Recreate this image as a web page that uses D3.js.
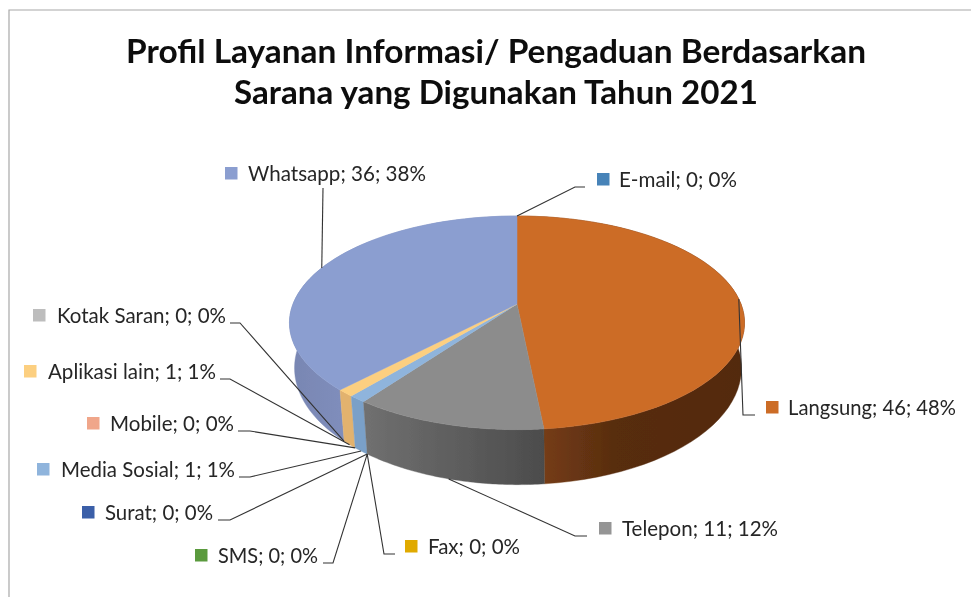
<!DOCTYPE html>
<html>
<head>
<meta charset="utf-8">
<script src="https://cdn.jsdelivr.net/npm/d3@7/dist/d3.min.js"></script>
<style>
html,body{margin:0;padding:0;background:#fff;overflow:hidden}
svg{display:block}
text{font-family:Lato,"Open Sans",sans-serif;fill:#262626}
</style>
</head>
<body>
<svg id="chart" width="971" height="597"></svg>
<script>
// ---- data ----
const categories = ["E-mail","Langsung","Telepon","Fax","SMS","Surat","Media Sosial","Mobile","Aplikasi lain","Kotak Saran","Whatsapp"];
const values     = [0,46,11,0,0,0,1,0,1,0,36];
const percents   = ["0%","48%","12%","0%","0%","0%","1%","0%","1%","0%","38%"];
const titleLines = ["Profil Layanan Informasi/ Pengaduan Berdasarkan","Sarana yang Digunakan Tahun 2021"];

// ---- style ----
const colors   = ["#4683b8","#cc6c28","#8c8c8c","#e0aa00","#5a9a3c","#3a5ea8","#8fb4dc","#f0a68a","#fccf80","#bdbdbd","#8b9ed0"];
const legendColors = ["#4683b8","#cc6c28","#959595","#e0aa00","#5a9a3c","#3a5ea8","#8fb4dc","#f0a68a","#fccf80","#bdbdbd","#8b9ed0"];
const wallStops = {
  Langsung:[["0","#753c14"],["0.35","#582d10"],["1","#532a0f"]],
  Telepon:[["0","#707070"],["1","#4c4c4c"]],
  "Media Sosial":[["0","#7aa0c8"],["1","#7aa0c8"]],
  "Aplikasi lain":[["0","#e2b26e"],["1","#e2b26e"]],
  Whatsapp:[["0","#7886b2"],["1","#7f8dbb"]]
};

// ---- label layout: swatch x, text span, baseline, leader stub ----
const layout = {
  "E-mail":       {sx:597,tx:619,te:737,by:187,stub:[585,575],rim:"top"},
  "Langsung":     {sx:766,tx:788,te:956,by:415,stub:[755,743],rim:"top"},
  "Telepon":      {sx:599,tx:622,te:778,by:536,stub:[587,575],rim:"bottom"},
  "Fax":          {sx:405,tx:428,te:520,by:554,stub:[395,384],rim:"bottom"},
  "SMS":          {sx:195,tx:218,te:318,by:563,stub:[323,333],rim:"bottom"},
  "Surat":        {sx:82, tx:105,te:213,by:520,stub:[218,230],rim:"bottom"},
  "Media Sosial": {sx:37, tx:61, te:235,by:477,stub:[239,250],rim:"bottom"},
  "Mobile":       {sx:87, tx:110,te:234,by:431,stub:[238,250],rim:"bottom"},
  "Aplikasi lain":{sx:24, tx:48, te:216,by:379,stub:[220,230],rim:"bottom"},
  "Kotak Saran":  {sx:33, tx:57, te:226,by:323,stub:[230,240],rim:"bottom"},
  "Whatsapp":     {sx:225,tx:248,te:426,by:181,stub:null,rim:"top",elbow:[323,188]}
};

const svg = d3.select("#chart");
const defs = svg.append("defs");
defs.append("filter").attr("id","soft").attr("x","-5%").attr("y","-5%").attr("width","110%").attr("height","110%")
  .append("feGaussianBlur").attr("stdDeviation",0.4);

// frame
svg.append("path").attr("d","M9,597V10H971").attr("fill","none").attr("stroke","#a8a8a8").attr("stroke-width",1.2);

const scene = svg.append("g").attr("filter","url(#soft)");

// title
scene.selectAll("text.title").data(titleLines).join("text").attr("class","title")
  .attr("x",496).attr("y",(d,i)=>63+i*40.5).attr("text-anchor","middle")
  .attr("font-size",33).attr("font-weight",700).style("fill","#0c0c0c")
  .attr("textLength",(d,i)=>i===0?740:524).attr("lengthAdjust","spacingAndGlyphs")
  .text(d=>d);

// perspective projection of the pie's two discs
const persp = 0.176;
const discs = {
  top:   {cx:517,cy:304,  a:224,b:103.5},
  bottom:{cx:518,cy:347.5,a:220,b:113}
};
function project(theta,layer){
  const d = discs[layer], w = 1 + persp*Math.cos(theta);
  return [d.cx + d.a*Math.sin(theta)/w, d.cy - d.b*Math.cos(theta)/w];
}
const pie = d3.pie().sort(null).value(d=>d.value);
const arcs = pie(categories.map((name,i)=>({name,value:values[i],color:colors[i],i})));
const line = d3.line();
const samples = (a0,a1)=>d3.range(0,61).map(k=>a0+(a1-a0)*k/60);
const visible = arcs.filter(a=>a.data.value>0);

// walls, back to front
const wallOrder = visible.slice().sort((p,q)=>{
  const m = a=>Math.cos((a.startAngle+a.endAngle)/2);
  return m(q)-m(p);
});
wallOrder.forEach(a=>{
  const ts = samples(a.startAngle,a.endAngle);
  const topPts = ts.map(t=>project(t,"top"));
  const botPts = ts.map(t=>project(t,"bottom")).reverse();
  const front = ts.filter(t=>Math.cos(t)<0.1);
  const xs = (front.length?front:ts).map(t=>project(t,"top")[0]);
  const id = "wall"+a.data.i;
  const g = defs.append("linearGradient").attr("id",id).attr("gradientUnits","userSpaceOnUse")
    .attr("x1",d3.min(xs)).attr("x2",d3.max(xs)).attr("y1",0).attr("y2",0);
  wallStops[a.data.name].forEach(s=>g.append("stop").attr("offset",s[0]).attr("stop-color",s[1]));
  scene.append("path").attr("d",line(topPts.concat(botPts))+"Z")
    .attr("fill",`url(#${id})`).attr("stroke",`url(#${id})`).attr("stroke-width",0.4);
});

// top faces
scene.selectAll("path.face").data(visible).join("path").attr("class","face")
  .attr("d",a=>line([[discs.top.cx,discs.top.cy]].concat(samples(a.startAngle,a.endAngle).map(t=>project(t,"top"))))+"Z")
  .attr("fill",a=>a.data.color).attr("stroke",a=>a.data.color).attr("stroke-width",0.5);

// leader lines
scene.selectAll("path.leader").data(arcs).join("path").attr("class","leader")
  .attr("d",a=>{
    const L = layout[a.data.name];
    const mid = (a.startAngle+a.endAngle)/2;
    const end = project(mid,L.rim);
    const pts = L.stub ? [[L.stub[0],L.by],[L.stub[1],L.by],end] : [L.elbow,end];
    return line(pts);
  })
  .attr("fill","none").attr("stroke","#333").attr("stroke-width",1.1);

// labels and swatches
scene.selectAll("rect.swatch").data(arcs).join("rect").attr("class","swatch")
  .attr("x",a=>layout[a.data.name].sx).attr("y",a=>layout[a.data.name].by-14)
  .attr("width",12.5).attr("height",12.5).attr("fill",a=>legendColors[a.data.i]);
scene.selectAll("text.lab").data(arcs).join("text").attr("class","lab")
  .attr("x",a=>layout[a.data.name].tx).attr("y",a=>layout[a.data.name].by)
  .attr("font-size",20.5)
  .attr("textLength",a=>layout[a.data.name].te-layout[a.data.name].tx)
  .attr("lengthAdjust","spacingAndGlyphs")
  .text(a=>`${a.data.name}; ${a.data.value}; ${percents[a.data.i]}`);
</script>
</body>
</html>
